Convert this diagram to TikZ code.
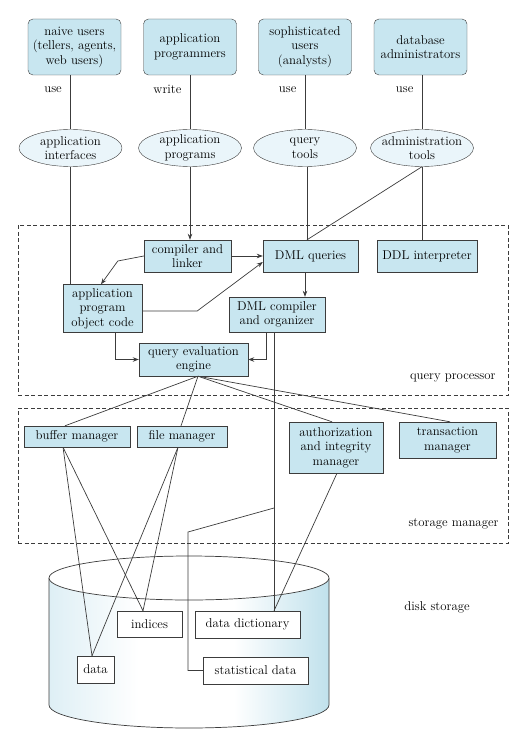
\documentclass[tikz,border=0pt]{standalone}
\usepackage{tikz}
\usetikzlibrary{arrows.meta,shapes.geometric}
\definecolor{boxblue}{RGB}{200,230,240}
\definecolor{toolblue}{RGB}{234,245,250}
\definecolor{edgegray}{RGB}{60,60,60}
\definecolor{cylleft}{RGB}{222,239,245}
\definecolor{cylright}{RGB}{192,225,236}
\pgfdeclarehorizontalshading{diskshade}{100bp}{color(0bp)=(cylleft); color(25bp)=(cylleft);
    color(41bp)=(white); color(58bp)=(white); color(75bp)=(cylright); color(100bp)=(cylright)}

\tikzset{
    every node/.style={font=\fontsize{12.8}{14.5}\selectfont},
    userbox/.style={draw=edgegray, fill=boxblue, rounded corners=5pt, align=center,
        minimum width=93pt, minimum height=56pt, inner sep=2pt},
    toolell/.style={ellipse, draw=edgegray, fill=toolblue, align=center,
        minimum width=103pt, minimum height=37pt, inner xsep=-9pt, inner ysep=-6pt},
    procbox/.style={draw=edgegray, fill=boxblue, align=center, inner sep=2pt},
    diskbox/.style={draw=edgegray, fill=white, align=center, inner sep=2pt},
    procregion/.style={draw=edgegray, dash pattern=on 4pt off 2.5pt},
    conn/.style={draw=edgegray, line width=0.7pt},
    arr/.style={conn, -{Stealth[length=6pt,width=4.5pt]}},
    lbl/.style={pos=0.26, anchor=east, xshift=-5pt},
}

\begin{document}
\begin{tikzpicture}[x=1pt, y=-1pt]
    \useasboundingbox (0,0) rectangle (526,730);
    % Dashed regions
    \node[procregion, minimum width=490pt, minimum height=170pt] (qproc) at (263,310) {};
    \node[anchor=east] (qproclbl) at (499,378) {query processor};
    \node[procregion, minimum width=490pt, minimum height=135pt] (stmgr) at (263,475.5) {};
    \node[anchor=east] (stmgrlbl) at (502,524) {storage manager};
    % Disk cylinder
    \shade[shading=diskshade] (49,578) -- (49,705)
        arc[start angle=180, end angle=360, x radius=140pt, y radius=23pt] -- (329,578) -- cycle;
    \draw[conn] (49,578) -- (49,705)
        arc[start angle=180, end angle=360, x radius=140pt, y radius=23pt] -- (329,578);
    \draw[conn, fill=white] (189,578) ellipse[x radius=140pt, y radius=22pt];
    \node (disklbl) at (437,607) {disk storage};

    % Users
    \node[userbox] (naive) at (74.5,47) {naive users\\(tellers, agents,\\web users)};
    \node[userbox] (appprogr) at (190,47) {application\\programmers};
    \node[userbox] (sophusers) at (305,47) {sophisticated\\users\\(analysts)};
    \node[userbox] (dbadmin) at (420.5,47) {database\\administrators};
    % Tools
    \node[toolell] (appiface) at (70.5,148) {application\\interfaces};
    \node[toolell] (appprogs) at (190,148) {application\\programs};
    \node[toolell] (qtools) at (305,148) {query\\tools};
    \node[toolell] (admtools) at (422,148) {administration\\tools};
    % Query processor
    \node[procbox, minimum width=87pt, minimum height=32pt] (complink) at (187.5,256) {compiler and\\linker};
    \node[procbox, minimum width=95pt, minimum height=32pt] (dmlq) at (310.5,256) {DML queries};
    \node[procbox, minimum width=100pt, minimum height=32pt] (ddl) at (427,256) {DDL interpreter};
    \node[procbox, minimum width=79pt, minimum height=48pt] (objcode) at (102.5,308.5) {application\\program\\object code};
    \node[procbox, minimum width=96pt, minimum height=35pt] (dmlcomp) at (277,314.5) {DML compiler\\and organizer};
    \node[procbox, minimum width=109pt, minimum height=33pt] (qeval) at (193.5,359.5) {query evaluation\\engine};
    % Storage manager
    \node[procbox, minimum width=106pt, minimum height=21pt] (bufmgr) at (77,436.5) {buffer manager};
    \node[procbox, minimum width=90pt, minimum height=21pt] (filemgr) at (182,436.5) {file manager};
    \node[procbox, minimum width=94pt, minimum height=51pt] (authmgr) at (336,447.5) {authorization\\and integrity\\manager};
    \node[procbox, minimum width=97pt, minimum height=36pt] (transmgr) at (447.5,440) {transaction\\manager};
    % Disk contents
    \node[diskbox, minimum width=65pt, minimum height=26pt] (indices) at (149.5,624) {indices};
    \node[diskbox, minimum width=105pt, minimum height=27pt] (datadict) at (247.5,624.5) {data dictionary};
    \node[diskbox, minimum width=37pt, minimum height=27pt] (data) at (95.5,669.5) {data};
    \node[diskbox, minimum width=105pt, minimum height=27pt] (statdata) at (255.5,670.5) {statistical data};

    % Users to tools
    \draw[conn] (appiface.north |- naive.south) -- node[lbl] {use} (appiface.north);
    \draw[conn] (appprogs.north |- appprogr.south) -- node[lbl] {write} (appprogs.north);
    \draw[conn] (qtools.north |- sophusers.south) -- node[lbl] {use} (qtools.north);
    \draw[conn] (admtools.north |- dbadmin.south) -- node[lbl] {use} (admtools.north);
    % Tools to query processor
    \draw[conn] (appiface.south) -- (appiface.south |- objcode.north);
    \draw[arr] (appprogs.south) -- (appprogs.south |- complink.north);
    \draw[conn] ([xshift=2pt]qtools.south) -- ([xshift=2pt]qtools.south |- dmlq.north);
    \draw[conn] (admtools.south) -- (admtools.south |- ddl.north);
    \draw[conn] (admtools.south) -- ([xshift=2pt]qtools.south |- dmlq.north);
    % Inside query processor
    \draw[arr] (complink.east) -- (dmlq.west);
    \draw[arr] (complink.west) -- ++(-26,5) -- ([xshift=-1.5pt]objcode.north);
    \draw[arr] ([yshift=-2.5pt]objcode.east) -- ++(55,0) -- ([yshift=-6pt]dmlq.west);
    \draw[arr] ([xshift=-5.5pt]dmlq.south) -- ([xshift=-5.5pt]dmlq.south |- dmlcomp.north);
    \draw[arr] ([xshift=12.5pt]objcode.south) |- (qeval.west);
    \draw[arr] ([xshift=-11pt]dmlcomp.south) |- (qeval.east);
    % Query evaluation engine to storage manager
    \coordinate (qetap) at ([xshift=4.5pt]qeval.south);
    \draw[conn] (qetap) -- ([xshift=-12pt]bufmgr.north);
    \draw[conn] (qetap) -- ([xshift=-1pt]filemgr.north);
    \draw[conn] (qetap) -- ([xshift=-4pt]authmgr.north);
    \draw[conn] (qetap) -- ([xshift=2.5pt]transmgr.north);
    % Storage manager to disk
    \draw[conn] ([xshift=-14pt]bufmgr.south) -- ([xshift=-3.5pt]data.north);
    \draw[conn] ([xshift=-14pt]bufmgr.south) -- ([xshift=-6.5pt]indices.north);
    \draw[conn] ([xshift=-4pt]filemgr.south) -- ([xshift=-3.5pt]data.north);
    \draw[conn] ([xshift=-4pt]filemgr.south) -- ([xshift=-6.5pt]indices.north);
    \draw[conn] ([xshift=1pt]authmgr.south) -- ([xshift=26.5pt]datadict.north);
    \draw[conn] ([xshift=-3pt]dmlcomp.south) -- ([xshift=26.5pt]datadict.north);
    \coordinate (stattap) at (274,508);
    \coordinate (statbend) at (188,532);
    \draw[conn] (stattap) -- (statbend) |- (statdata.west);
\end{tikzpicture}
\end{document}
